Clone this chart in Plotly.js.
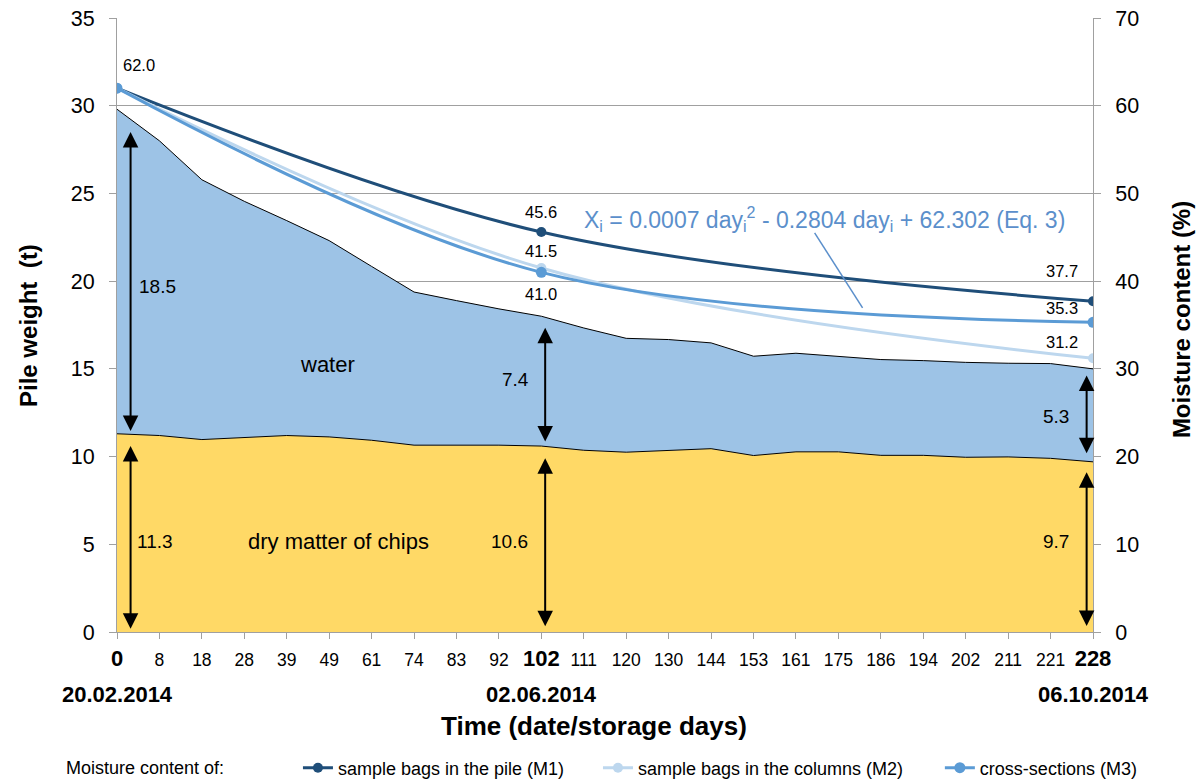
<!DOCTYPE html>
<html>
<head>
<meta charset="utf-8">
<script src="https://cdn.plot.ly/plotly-3.0.1.min.js"></script>
<style>html,body{margin:0;padding:0;background:#fff;}#chart{width:1203px;height:781px;}</style>
</head>
<body>
<div id="chart"></div>
<script>
// ---- data ----
const dayLabels = [0, 8, 18, 28, 39, 49, 61, 74, 83, 92, 102, 111, 120, 130, 144, 153, 161, 175, 186, 194, 202, 211, 221, 228];
const dryMatter = [11.3, 11.2, 10.97, 11.08, 11.2, 11.12, 10.93, 10.65, 10.65, 10.65, 10.6, 10.36, 10.25, 10.34, 10.45, 10.06, 10.27, 10.27, 10.07, 10.07, 9.96, 9.98, 9.9, 9.7];
const pileWeight = [29.8, 28.0, 25.78, 24.55, 23.45, 22.31, 20.84, 19.38, 18.89, 18.42, 18.0, 17.33, 16.74, 16.67, 16.48, 15.72, 15.89, 15.72, 15.53, 15.47, 15.37, 15.32, 15.3, 15.0];
const sampleDays = [0, 102, 228];
const moistureM1 = [62.0, 45.6, 37.7];
const moistureM2 = [62.0, 41.5, 31.2];
const moistureM3 = [62.0, 41.0, 35.3];
const dateLabels = ['20.02.2014', '02.06.2014', '06.10.2014'];
const seriesNames = ['sample bags in the pile (M1)', 'sample bags in the columns (M2)', 'cross-sections (M3)'];

// ---- helpers ----
const FONT = 'Arial, "Liberation Sans", sans-serif';
const idx = dayLabels.map((d, i) => i);
const boldDays = [0, 102, 228];
const tickText = dayLabels.map(d => boldDays.includes(d) ? '<span style="font-size:22px"><b>' + d + '</b></span>' : String(d));
const sampleIdx = sampleDays.map(d => dayLabels.indexOf(d));

const C_WATER = '#9DC3E6', C_DRY = '#FFD966';
const C_M1 = '#1F4E79', C_M2 = '#BDD7EE', C_M3 = '#5B9BD5';

const traces = [
  {x: idx, y: dryMatter, type: 'scatter', mode: 'lines', fill: 'tozeroy', fillcolor: C_DRY,
   line: {color: '#000', width: 1}, showlegend: false, hoverinfo: 'skip'},
  {x: idx, y: pileWeight, type: 'scatter', mode: 'lines', fill: 'tonexty', fillcolor: C_WATER,
   line: {color: '#000', width: 1}, showlegend: false, hoverinfo: 'skip'},
  {x: sampleIdx, y: moistureM1, yaxis: 'y2', type: 'scatter', mode: 'lines+markers', name: seriesNames[0],
   line: {color: C_M1, width: 3, shape: 'spline'}, marker: {color: C_M1, size: 10}, legend: 'legend'},
  {x: sampleIdx, y: moistureM2, yaxis: 'y2', type: 'scatter', mode: 'lines+markers', name: seriesNames[1],
   line: {color: C_M2, width: 3, shape: 'spline'}, marker: {color: C_M2, size: 10}, legend: 'legend2'},
  {x: sampleIdx, y: moistureM3, yaxis: 'y2', type: 'scatter', mode: 'lines+markers', name: seriesNames[2],
   line: {color: C_M3, width: 3, shape: 'spline'}, marker: {color: C_M3, size: 11}, legend: 'legend3'}
];

const ann = [];
// moisture value labels
const lblFont = {family: FONT, size: 16.5, color: '#000'};
function mLabel(i, v, xs, ys) {
  ann.push({x: sampleIdx[i], y: v, xref: 'x', yref: 'y2', text: v.toFixed(1), showarrow: false,
            xanchor: 'center', yanchor: 'middle', xshift: xs, yshift: ys, font: lblFont});
}
mLabel(0, moistureM1[0], 22, 23);
mLabel(1, moistureM1[1], 0, 20);
mLabel(1, moistureM2[1], 0, 17);
mLabel(1, moistureM3[1], 0, -22);
mLabel(2, moistureM1[2], -31, 30);
mLabel(2, moistureM3[2], -31, 14);
mLabel(2, moistureM2[2], -31, 16);

// double arrows (water and dry matter) at three dates
const arrowCols = [
  {i: 0, dx: 0.32, topIn: 1.3, midW: 0.07, midD: 0.7, bot: 0.1, lx: 0.95, ly: 19.7, dlx: 0.9},
  {i: 10, dx: 0.09, topIn: 0.65, midW: 0.18, midD: 0.7, bot: 0.24, lx: -0.62, ly: 14.4, dlx: -0.74},
  {i: 23, dx: -0.15, topIn: 0.38, midW: 0.4, midD: 0.6, bot: 0.26, lx: -0.88, ly: 12.3, dlx: -0.88}
];
const arrowStyle = {xref: 'x', yref: 'y', axref: 'x', ayref: 'y', text: '', showarrow: true,
  arrowhead: 2, arrowsize: 1.55, arrowwidth: 2, arrowcolor: '#000', arrowside: 'end+start', startarrowhead: 2, startarrowsize: 1.55};
const numFont = {family: FONT, size: 19, color: '#000'};
arrowCols.forEach(c => {
  const x = c.i + c.dx;
  const total = pileWeight[c.i], dry = dryMatter[c.i];
  ann.push(Object.assign({}, arrowStyle, {x: x, y: total - c.topIn, ax: x, ay: dry + c.midW}));
  ann.push(Object.assign({}, arrowStyle, {x: x, y: dry - c.midD, ax: x, ay: c.bot}));
  ann.push({x: c.i + c.lx, y: c.ly, xref: 'x', yref: 'y', text: (total - dry).toFixed(1), showarrow: false,
            xanchor: 'center', yanchor: 'middle', font: numFont});
  ann.push({x: c.i + c.dlx, y: 5.17, xref: 'x', yref: 'y', text: dry.toFixed(1), showarrow: false,
            xanchor: 'center', yanchor: 'middle', font: numFont});
});

// area labels
const areaFont = {family: FONT, size: 22, color: '#000'};
ann.push({x: 4.97, y: 15.24, xref: 'x', yref: 'y', text: 'water', showarrow: false, xanchor: 'center', yanchor: 'middle', font: areaFont});
ann.push({x: 5.22, y: 5.17, xref: 'x', yref: 'y', text: 'dry matter of chips', showarrow: false, xanchor: 'center', yanchor: 'middle', font: areaFont});

// equation
ann.push({x: 0.7254, y: 0.6726, xref: 'paper', yref: 'paper', showarrow: false, xanchor: 'center', yanchor: 'middle',
  text: 'X<sub>i</sub> = 0.0007 day<sub>i</sub><sup>2</sup> - 0.2804 day<sub>i</sub> + 62.302 (Eq. 3)',
  font: {family: FONT, size: 23, color: '#5B8FCB'}});

// date labels
const dateFont = {family: FONT, size: 22, color: '#000'};
sampleIdx.forEach((xi, k) => {
  ann.push({x: xi, y: -0.1026, xref: 'x', yref: 'paper', text: '<b>' + dateLabels[k] + '</b>', showarrow: false,
            font: dateFont, xanchor: 'center', yanchor: 'middle'});
});
// axis titles
ann.push({x: 0.4887, y: -0.153, xref: 'paper', yref: 'paper', text: '<b>Time (date/storage days)</b>', showarrow: false,
  font: {family: FONT, size: 26, color: '#000'}, xanchor: 'center', yanchor: 'middle'});
ann.push({x: -0.0912, y: 0.5, xref: 'paper', yref: 'paper', text: '<b>Pile weight  (t)</b>', showarrow: false, textangle: -90,
  xanchor: 'center', yanchor: 'middle', font: {family: FONT, size: 24, color: '#000'}});
ann.push({x: 1.0902, y: 0.508, xref: 'paper', yref: 'paper', text: '<b>Moisture content (%)</b>', showarrow: false, textangle: -90,
  xanchor: 'center', yanchor: 'middle', font: {family: FONT, size: 24, color: '#000'}});
ann.push({x: -0.0543, y: -0.2215, xref: 'paper', yref: 'paper', text: 'Moisture content of:', showarrow: false,
  xanchor: 'left', yanchor: 'middle', font: {family: FONT, size: 18, color: '#000'}});

const legFont = {family: FONT, size: 18, color: '#000'};
function leg(x) { return {x: x, y: -0.2215, xanchor: 'left', yanchor: 'middle', orientation: 'h', font: legFont, bgcolor: 'rgba(0,0,0,0)', itemwidth: 30}; }

const layout = {
  width: 1203, height: 781,
  margin: {l: 117, r: 110, t: 18, b: 149, autoexpand: false},
  paper_bgcolor: '#fff', plot_bgcolor: '#fff',
  font: {family: FONT, color: '#000'},
  xaxis: {range: [0, 23], tickmode: 'array', tickvals: idx, ticktext: tickText, ticks: 'outside', ticklen: 6,
          tickcolor: '#A0A0A0', showline: true, linecolor: '#A0A0A0', showgrid: false, zeroline: false, automargin: false,
          tickfont: {family: FONT, size: 17.5, color: '#000'}, ticklabelstandoff: 6, fixedrange: true},
  yaxis: {range: [0, 35], dtick: 5, tick0: 0, showgrid: true, gridcolor: '#A0A0A0', gridwidth: 1, showline: true,
          linecolor: '#A0A0A0', ticks: 'outside', ticklen: 7, tickcolor: '#A0A0A0', zeroline: false, automargin: false,
          tickfont: {family: FONT, size: 21.5, color: '#000'}, ticklabelstandoff: 10},
  yaxis2: {range: [0, 70], dtick: 10, tick0: 0, overlaying: 'y', side: 'right', showgrid: false, showline: true,
           linecolor: '#A0A0A0', ticks: 'outside', ticklen: 7, tickcolor: '#A0A0A0', zeroline: false, automargin: false,
           tickfont: {family: FONT, size: 21.5, color: '#000'}, ticklabelstandoff: 10},
  legend: leg(0.1854), legend2: leg(0.4928), legend3: leg(0.8431),
  annotations: ann,
  shapes: [{type: 'line', xref: 'x', yref: 'y2', x0: 16.44, y0: 45.5, x1: 17.57, y1: 36.96,
            line: {color: '#5B8FCB', width: 1.5}}]
};

Plotly.newPlot('chart', traces, layout, {displayModeBar: false, staticPlot: true});
</script>
</body>
</html>
